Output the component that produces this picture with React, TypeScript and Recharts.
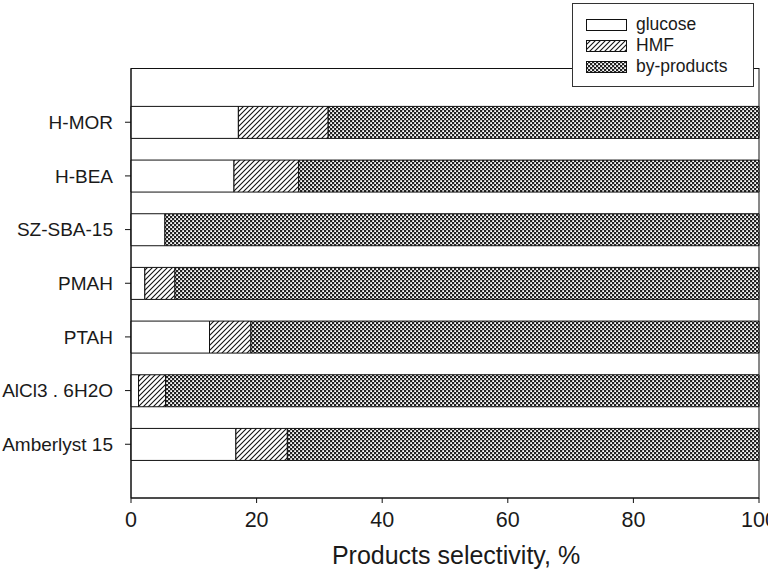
import * as Recharts from 'recharts'
import { Bar, BarChart, Legend, XAxis, YAxis } from 'recharts'

// catalysts top to bottom, values in % selectivity
const catalysts = ['H-MOR', 'H-BEA', 'SZ-SBA-15', 'PMAH', 'PTAH', 'AlCl3 . 6H2O', 'Amberlyst 15']
const glucose = [17.1, 16.4, 5.4, 2.2, 12.5, 1.2, 16.7]
const hmf = [14.3, 10.3, 0, 4.8, 6.6, 4.3, 8.2]
const byProducts = [68.6, 73.3, 94.6, 93.0, 80.9, 94.5, 75.1]
const xTicks = [0, 20, 40, 60, 80, 100]

const seriesNames = ['glucose', 'HMF', 'by-products']
const seriesFills = ['#ffffff', 'url(#hatch)', 'url(#cross)']

const FONT = '"Liberation Sans", Arial, sans-serif'
const TEXT = '#1a1a1a'

const chartData = catalysts.map((name, i) => ({
  name,
  glucose: glucose[i],
  hmf: hmf[i],
  byProducts: byProducts[i],
}))

// plot-area hooks differ a bit between recharts 3.x minors
const R = Recharts as any
const usePlotAreaSafe = (): { x: number; y: number; width: number; height: number } | null => {
  if (R.usePlotArea) return R.usePlotArea() ?? null
  if (R.useOffset && R.useChartWidth && R.useChartHeight) {
    const o = R.useOffset()
    const w = R.useChartWidth()
    const h = R.useChartHeight()
    if (!o || !w || !h) return null
    return { x: o.left, y: o.top, width: w - o.left - o.right, height: h - o.top - o.bottom }
  }
  return null
}

function PlotFrame() {
  const area = usePlotAreaSafe()
  if (!area) return null
  return <rect x={area.x} y={area.y} width={area.width} height={area.height} fill="none" stroke="#111" />
}

function LegendBox() {
  return (
    <div
      style={{
        width: 180,
        height: 82,
        border: '1px solid #333',
        background: '#fff',
        fontFamily: FONT,
        fontSize: 17.5,
        color: TEXT,
      }}
    >
      <div style={{ height: 10 }} />
      {seriesNames.map((n, i) => (
        <div key={n} style={{ display: 'flex', alignItems: 'center', height: 21 }}>
          <svg width={41} height={12} style={{ marginLeft: 13, marginRight: 9, display: 'block' }}>
            <rect x={0.5} y={0.5} width={40} height={11} fill={seriesFills[i]} stroke="#111" />
          </svg>
          <span style={{ lineHeight: '21px' }}>{n}</span>
        </div>
      ))}
    </div>
  )
}

export default function App() {
  return (
    <div style={{ position: 'absolute', left: 0, top: 0, width: 768, height: 569, background: '#fff' }}>
      <BarChart
        width={768}
        height={569}
        data={chartData}
        layout="vertical"
        margin={{ top: 68.5, right: 9, left: 0, bottom: 0 }}
        barSize={32}
      >
        <defs>
          <pattern id="hatch" patternUnits="userSpaceOnUse" width={5} height={5}>
            <rect width={5} height={5} fill="#fff" />
            <path d="M0,5 L5,0 M-1,1 L1,-1 M4,6 L6,4" stroke="#111" strokeWidth={1.1} />
          </pattern>
          <pattern id="cross" patternUnits="userSpaceOnUse" width={4} height={4}>
            <rect width={4} height={4} fill="#222" />
            <rect x={0.2} y={0.2} width={1.8} height={1.8} fill="#fff" />
            <rect x={2.2} y={2.2} width={1.8} height={1.8} fill="#fff" />
          </pattern>
        </defs>
        <XAxis
          type="number"
          domain={[0, 100]}
          ticks={xTicks}
          interval={0}
          height={71}
          tickSize={5}
          tickMargin={9}
          axisLine={{ stroke: '#111' }}
          tickLine={{ stroke: '#111' }}
          tick={{ fill: TEXT, fontSize: 21.5, fontFamily: FONT }}
          label={{
            value: 'Products selectivity, %',
            position: 'insideBottom',
            offset: 5,
            dx: 11,
            fill: TEXT,
            fontSize: 25,
            fontFamily: FONT,
          }}
        />
        <YAxis
          type="category"
          dataKey="name"
          width={131}
          padding={{ top: 26.9, bottom: 26.9 }}
          tickSize={6}
          tickMargin={12}
          axisLine={{ stroke: '#111' }}
          tickLine={{ stroke: '#111' }}
          tick={{ fill: TEXT, fontSize: 19, fontFamily: FONT }}
        />
        <PlotFrame />
        <Legend
          layout="horizontal"
          verticalAlign="middle"
          align="center"
          wrapperStyle={{ position: 'absolute', top: 3, left: 572, width: 182 }}
          content={() => <LegendBox />}
        />
        <Bar dataKey="glucose" stackId="s" fill={seriesFills[0]} stroke="#111" strokeWidth={1} isAnimationActive={false} />
        <Bar dataKey="hmf" stackId="s" fill={seriesFills[1]} stroke="#111" strokeWidth={1} isAnimationActive={false} />
        <Bar dataKey="byProducts" stackId="s" fill={seriesFills[2]} stroke="#111" strokeWidth={1} isAnimationActive={false} />
      </BarChart>
    </div>
  )
}
